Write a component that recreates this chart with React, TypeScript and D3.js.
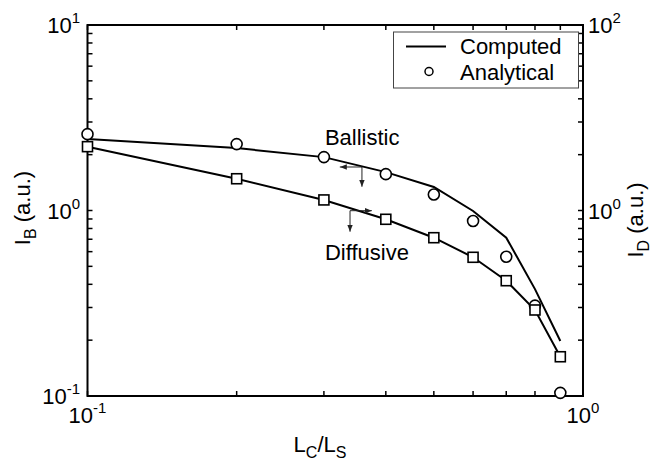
import React, { useRef, useEffect } from 'react'
import * as d3 from 'd3'

// L_C / L_S positions
const lcOverLs = [0.1, 0.2, 0.3, 0.4, 0.5, 0.6, 0.7, 0.8, 0.9]
// ballistic current (left axis, I_B)
const ballisticComputed = [2.43, 2.17, 1.94, 1.61, 1.34, 0.994, 0.714, 0.377, 0.198]
const ballisticAnalytical = [2.58, 2.28, 1.94, 1.57, 1.22, 0.878, 0.563, 0.307, 0.104]
// diffusive current (right axis, I_D)
const diffusiveComputed = [4.88, 2.2, 1.3, 0.804, 0.509, 0.313, 0.175, 0.0846, 0.0265]
const diffusiveAnalytical = [4.88, 2.2, 1.3, 0.804, 0.509, 0.313, 0.175, 0.0846, 0.0265]

const xTicks = [0.1, 1]
const xTickExp = ['-1', '0']
const yLeftTicks = [0.1, 1, 10]
const yLeftExp = ['-1', '0', '1']
const yRightTicks = [1, 100]
const yRightExp = ['0', '2']
const legendLabels = ['Computed', 'Analytical']

const W = 653
const H = 466
const FONT = 'Arial, "Liberation Sans", Helvetica, sans-serif'

function minorTicks(lo: number, hi: number) {
  const out: number[] = []
  for (let d = lo; d < hi; d *= 10) {
    for (let k = 1; k < 10; k++) out.push(d * k)
  }
  out.push(hi)
  return out
}

function Chart() {
  const ref = useRef<SVGSVGElement>(null)

  useEffect(() => {
    const svg = d3.select(ref.current)
    svg.selectAll('*').remove()

    const left = 87.5, right = 583, top = 25, bottom = 396
    const x = d3.scaleLog().domain([0.1, 1]).range([left, right])
    const yL = d3.scaleLog().domain([0.1, 10]).range([bottom, top])
    const yR = d3.scaleLog().domain([0.01, 100]).range([bottom, top])

    const defs = svg.append('defs')
    defs.append('marker')
      .attr('id', 'arr')
      .attr('viewBox', '0 0 10 10')
      .attr('refX', 10).attr('refY', 5)
      .attr('markerWidth', 7).attr('markerHeight', 7)
      .attr('markerUnits', 'userSpaceOnUse')
      .attr('orient', 'auto')
      .append('path').attr('d', 'M0,1L10,5L0,9Z').attr('fill', '#222')

    // ticks (inward, mirrored on all sides)
    const tl = 5
    const g = svg.append('g').attr('stroke', '#000').attr('stroke-width', 1.5)
    minorTicks(0.1, 1).forEach(v => {
      g.append('line').attr('x1', x(v)).attr('x2', x(v)).attr('y1', bottom).attr('y2', bottom - tl)
      g.append('line').attr('x1', x(v)).attr('x2', x(v)).attr('y1', top).attr('y2', top + tl)
    })
    minorTicks(0.1, 10).forEach(v => {
      g.append('line').attr('x1', left).attr('x2', left + tl).attr('y1', yL(v)).attr('y2', yL(v))
      g.append('line').attr('x1', right).attr('x2', right - tl).attr('y1', yL(v)).attr('y2', yL(v))
    })

    // frame
    svg.append('rect')
      .attr('x', left).attr('y', top)
      .attr('width', right - left).attr('height', bottom - top)
      .attr('fill', 'none').attr('stroke', '#000').attr('stroke-width', 2)

    const sup = (sel: any, exp: string) => {
      sel.append('tspan').text('10')
      sel.append('tspan').attr('font-size', 15).attr('dy', -10).text(exp)
    }

    // tick labels
    xTicks.forEach((v, i) => {
      const t = svg.append('text').attr('x', x(v)).attr('y', 423)
        .attr('text-anchor', 'middle').attr('font-size', 22).attr('font-family', FONT)
      sup(t, xTickExp[i])
    })
    yLeftTicks.forEach((v, i) => {
      const t = svg.append('text').attr('x', 80).attr('y', yL(v) + 8)
        .attr('text-anchor', 'end').attr('font-size', 22).attr('font-family', FONT)
      sup(t, yLeftExp[i])
    })
    yRightTicks.forEach((v, i) => {
      const t = svg.append('text').attr('x', 588).attr('y', yR(v) + 8)
        .attr('text-anchor', 'start').attr('font-size', 22).attr('font-family', FONT)
      sup(t, yRightExp[i])
    })

    // axis titles
    const xt = svg.append('text').attr('x', 320).attr('y', 452)
      .attr('text-anchor', 'middle').attr('font-size', 22).attr('font-family', FONT)
    xt.append('tspan').text('L')
    xt.append('tspan').attr('font-size', 16).attr('dy', 6).text('C')
    xt.append('tspan').attr('dy', -6).text('/L')
    xt.append('tspan').attr('font-size', 16).attr('dy', 6).text('S')

    const ylab = (cx: number, cy: number, sub: string) => {
      const t = svg.append('text').attr('transform', `translate(${cx},${cy}) rotate(-90)`)
        .attr('text-anchor', 'middle').attr('font-size', 22).attr('font-family', FONT)
      t.append('tspan').text('I')
      t.append('tspan').attr('font-size', 16).attr('dy', 6).text(sub)
      t.append('tspan').attr('dy', -6).text(' (a.u.)')
    }
    ylab(30, 208, 'B')
    ylab(643, 220, 'D')

    // curves
    const lineL = d3.line<number>().x((_, i) => x(lcOverLs[i])).y(d => yL(d))
    const lineR = d3.line<number>().x((_, i) => x(lcOverLs[i])).y(d => yR(d))
    svg.append('path').attr('d', lineL(ballisticComputed))
      .attr('fill', 'none').attr('stroke', '#000').attr('stroke-width', 2)
    svg.append('path').attr('d', lineR(diffusiveComputed))
      .attr('fill', 'none').attr('stroke', '#000').attr('stroke-width', 2)

    svg.selectAll('.circ').data(ballisticAnalytical).join('circle')
      .attr('class', 'circ')
      .attr('cx', (_, i) => x(lcOverLs[i])).attr('cy', d => yL(d)).attr('r', 5.5)
      .attr('fill', '#fff').attr('stroke', '#000').attr('stroke-width', 1.6)
    svg.selectAll('.sq').data(diffusiveAnalytical).join('rect')
      .attr('class', 'sq')
      .attr('x', (_, i) => x(lcOverLs[i]) - 5).attr('y', d => yR(d) - 5)
      .attr('width', 10).attr('height', 10)
      .attr('fill', '#fff').attr('stroke', '#000').attr('stroke-width', 1.6)

    // annotations
    const arrow = (x1: number, y1: number, x2: number, y2: number) =>
      svg.append('line').attr('x1', x1).attr('y1', y1).attr('x2', x2).attr('y2', y2)
        .attr('stroke', '#222').attr('stroke-width', 1).attr('marker-end', 'url(#arr)')
    arrow(x(0.358), yL(1.716), x(0.323), yL(1.716))
    arrow(x(0.358), yL(1.716), x(0.358), yL(1.343))
    arrow(x(0.3387), yR(0.995), x(0.3748), yR(0.995))
    arrow(x(0.3387), yR(0.995), x(0.3387), yR(0.591))

    svg.append('text').attr('x', x(0.3014)).attr('y', yL(2.25))
      .attr('font-size', 22).attr('font-family', FONT).text('Ballistic')
    svg.append('text').attr('x', x(0.3014)).attr('y', yR(0.2926))
      .attr('font-size', 22).attr('font-family', FONT).text('Diffusive')

    // legend
    const lg = svg.append('g')
    lg.append('rect').attr('x', 393.5).attr('y', 32).attr('width', 185).attr('height', 56)
      .attr('fill', '#fff').attr('stroke', '#444').attr('stroke-width', 1)
    lg.append('line').attr('x1', 406).attr('x2', 446).attr('y1', 46.5).attr('y2', 46.5)
      .attr('stroke', '#000').attr('stroke-width', 2)
    lg.append('circle').attr('cx', 429).attr('cy', 71.5).attr('r', 4)
      .attr('fill', '#fff').attr('stroke', '#000').attr('stroke-width', 1.5)
    legendLabels.forEach((s, i) => {
      lg.append('text').attr('x', 460).attr('y', 54 + i * 26)
        .attr('font-size', 22).attr('font-family', FONT).text(s)
    })
  }, [])

  return (
    <svg ref={ref} width={W} height={H}
      style={{ position: 'absolute', left: 0, top: 0, background: '#fff' }} />
  )
}

export default function App() {
  return <Chart />
}
